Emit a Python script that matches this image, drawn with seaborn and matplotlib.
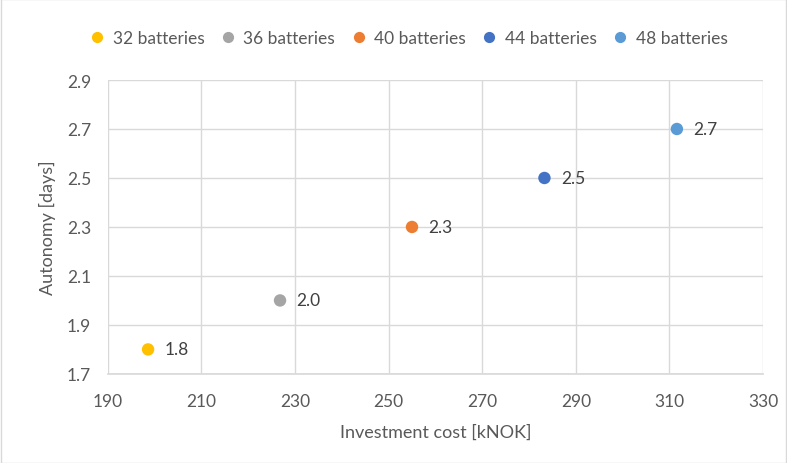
import matplotlib
matplotlib.use("Agg")
import matplotlib.pyplot as plt
import seaborn as sns
import pandas as pd

labels = ["32 batteries", "36 batteries", "40 batteries", "44 batteries", "48 batteries"]
cost = [198.6, 226.8, 255.0, 283.3, 311.6]
autonomy = [1.8, 2.0, 2.3, 2.5, 2.7]
colors = ["#FFC000", "#A5A5A5", "#ED7D31", "#4472C4", "#5B9BD5"]

df = pd.DataFrame({"label": labels, "cost": cost, "autonomy": autonomy})

sns.set_theme(style="white")
plt.rcParams['font.family'] = ['Lato', 'DejaVu Sans']
txt = "#595959"

fig = plt.figure(figsize=(7.87, 4.64), dpi=100)
ax = fig.add_axes([0.137, 0.192, 0.8325, 0.6334])
sns.scatterplot(data=df, x="cost", y="autonomy", hue="label", palette=colors,
                s=80, edgecolor="none", ax=ax, zorder=3, legend=True)

for x, y in zip(cost, autonomy):
    ax.annotate(f"{y:.1f}", (x, y), xytext=(12, 0), textcoords="offset points",
                va="center", ha="left", fontsize=12.5, color="#404040")

ax.set_xlim(190, 330)
ax.set_ylim(1.7, 2.9)
ax.set_xticks(range(190, 331, 20))
ax.set_yticks([1.7, 1.9, 2.1, 2.3, 2.5, 2.7, 2.9])
ax.set_yticklabels([f"{v:.1f}" for v in [1.7, 1.9, 2.1, 2.3, 2.5, 2.7, 2.9]])
ax.grid(True, color="#D9D9D9", linewidth=1)
ax.set_axisbelow(True)
for s in ["left", "top", "right"]:
    ax.spines[s].set_visible(False)
ax.spines["bottom"].set_color("#D9D9D9")
ax.tick_params(axis="x", colors=txt, labelsize=12.5, length=0, pad=14)
ax.tick_params(axis="y", colors=txt, labelsize=12.5, length=0, pad=12)
ax.set_xlabel("Investment cost [kNOK]", fontsize=13, color=txt, labelpad=10)
ax.set_ylabel("Autonomy [days]", fontsize=13, color=txt, labelpad=8)

h, l = ax.get_legend_handles_labels()
ax.legend_.remove()
fig.legend(h, l, loc="center", bbox_to_anchor=(0.513, 0.915), ncol=5, frameon=False,
           fontsize=12.5, labelcolor=txt, handletextpad=-0.1, columnspacing=0.35,
           markerscale=0.9)

fig.patches.append(plt.Rectangle((0.001, 0.001), 0.998, 0.998, transform=fig.transFigure,
                                 fill=False, edgecolor="#D9D9D9", linewidth=1))
fig.savefig("out.png", dpi=100)
